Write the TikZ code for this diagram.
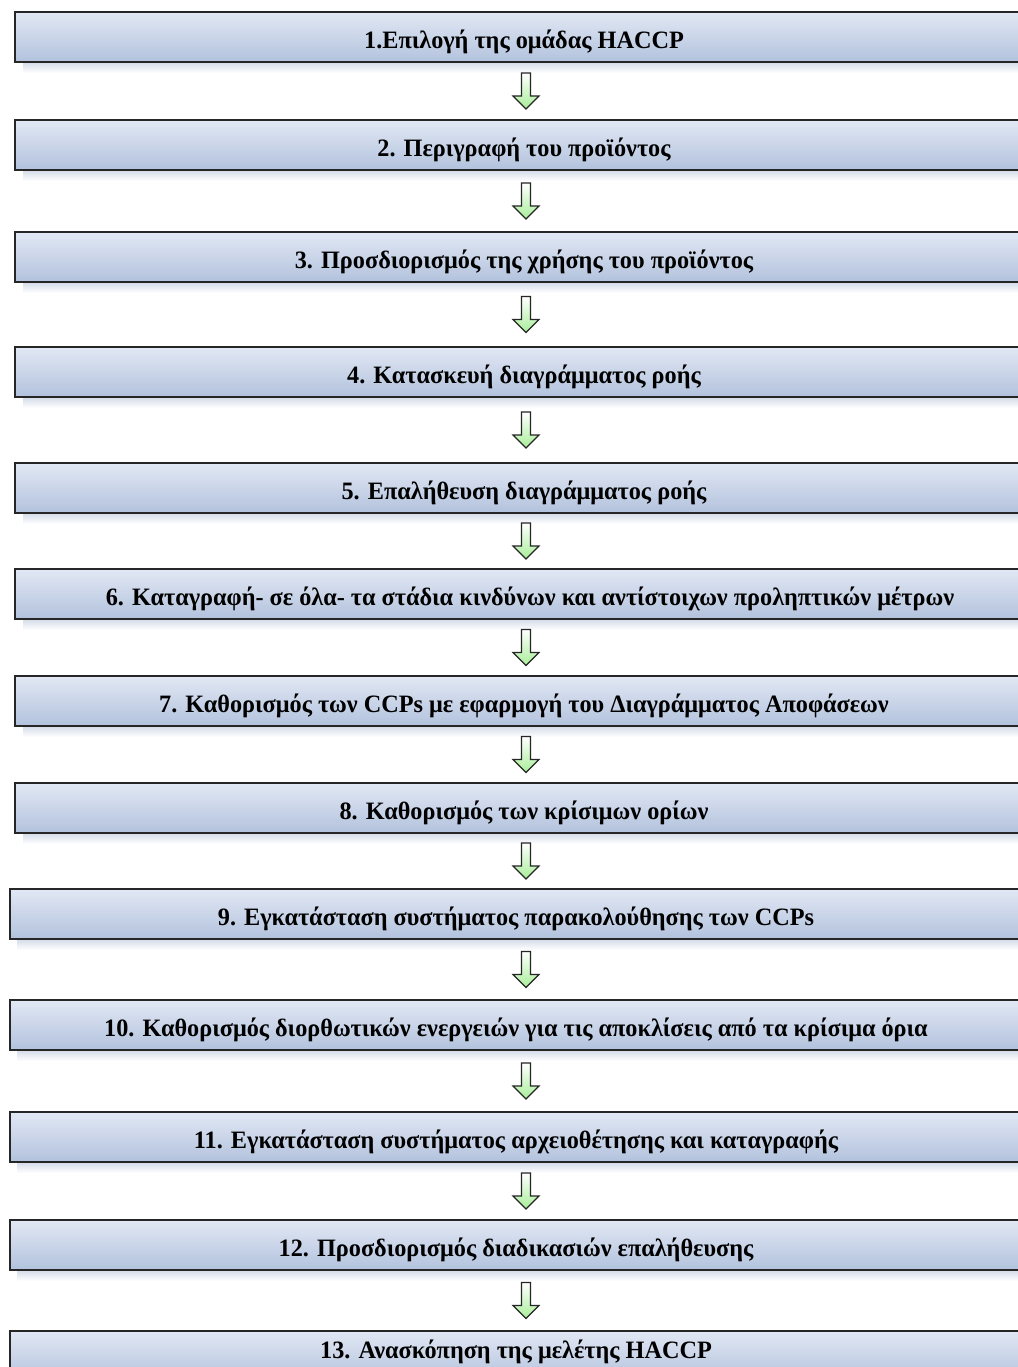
\documentclass[tikz,border=0pt]{standalone}
\usepackage{fontspec}
\setmainfont{Liberation Serif}
\usetikzlibrary{calc}
\definecolor{boxtop}{HTML}{E2E8F4}
\definecolor{boxbot}{HTML}{B2C2DD}
\definecolor{shadowc}{HTML}{D3DBE8}
\definecolor{arrowbot}{HTML}{A8EE98}
\newcommand{\hs}{0.97}
\newcommand{\boxtext}[1]{\scalebox{\hs}[1]{#1}}
\tikzset{
  stepbox/.style={draw=black!85, line width=1.7pt, top color=boxtop, bottom color=boxbot,
    minimum height=50pt, inner sep=0pt, text height=25pt, text depth=2pt,
    font=\fontsize{25}{29}\selectfont\bfseries},
  boxA/.style={stepbox, minimum width=1018pt},
  boxB/.style={stepbox, minimum width=1012pt},
  shadowstrip/.style={top color=shadowc, bottom color=white, draw=none},
  blockarrow/.style={draw=black!85, line width=1.2pt, line join=miter, top color=white, bottom color=arrowbot},
  pics/downarrow/.style={code={
    \path[blockarrow] (-4.5,-18) -- (4.5,-18) -- (4.5,5) -- (13,5) -- (0,18) -- (-13,5) -- (-4.5,5) -- cycle;
  }}
}
\begin{document}
\begin{tikzpicture}[x=1pt,y=-1pt]
\useasboundingbox (0,0) rectangle (1017,1367);
\fill[white] (0,0) rectangle (1017,1367);
% shadows
\foreach \c in {37,145,257,372,488,594,701,808}{
  \fill[shadowstrip] (23,\c+25) rectangle (1040,\c+36);
}
\foreach \c in {914,1025,1137,1245}{
  \fill[shadowstrip] (17,\c+25) rectangle (1040,\c+36);
}
% boxes
\node[boxA] (b1) at (524,37) {\boxtext{1.Επιλογή της ομάδας HACCP}};
\node[boxA] (b2) at (524,145) {\boxtext{2. Περιγραφή του προϊόντος}};
\node[boxA] (b3) at (524,257) {\boxtext{3. Προσδιορισμός της χρήσης του προϊόντος}};
\node[boxA] (b4) at (524,372) {\boxtext{4. Κατασκευή διαγράμματος ροής}};
\node[boxA] (b5) at (524,488) {\boxtext{5. Επαλήθευση διαγράμματος ροής}};
\node[boxA] (b6) at (524,594) {\hspace*{12pt}\boxtext{6. Καταγραφή- σε όλα- τα στάδια κινδύνων και αντίστοιχων προληπτικών μέτρων}};
\node[boxA] (b7) at (524,701) {\boxtext{7. Καθορισμός των CCPs με εφαρμογή του Διαγράμματος Αποφάσεων}};
\node[boxA] (b8) at (524,808) {\boxtext{8. Καθορισμός των κρίσιμων ορίων}};
\node[boxB] (b9) at (516,914) {\boxtext{9. Εγκατάσταση συστήματος παρακολούθησης των CCPs}};
\node[boxB] (b10) at (516,1025) {\boxtext{10. Καθορισμός διορθωτικών ενεργειών για τις αποκλίσεις από τα κρίσιμα όρια}};
\node[boxB] (b11) at (516,1137) {\boxtext{11. Εγκατάσταση συστήματος αρχειοθέτησης και καταγραφής}};
\node[boxB] (b12) at (516,1245) {\boxtext{12. Προσδιορισμός διαδικασιών επαλήθευσης}};
\node[boxB, text height=7pt, text depth=2pt] (b13) at (516,1356) {\boxtext{13. Ανασκόπηση της μελέτης HACCP}};
% arrows
\foreach \a/\b in {b1/b2,b2/b3,b3/b4,b4/b5,b5/b6,b6/b7,b7/b8,b8/b9,b9/b10,b10/b11,b11/b12,b12/b13}{
  \path let \p1=($(\a.south)!0.5!(\b.north)$) in pic at (526,\y1) {downarrow};
}
\end{tikzpicture}
\end{document}
